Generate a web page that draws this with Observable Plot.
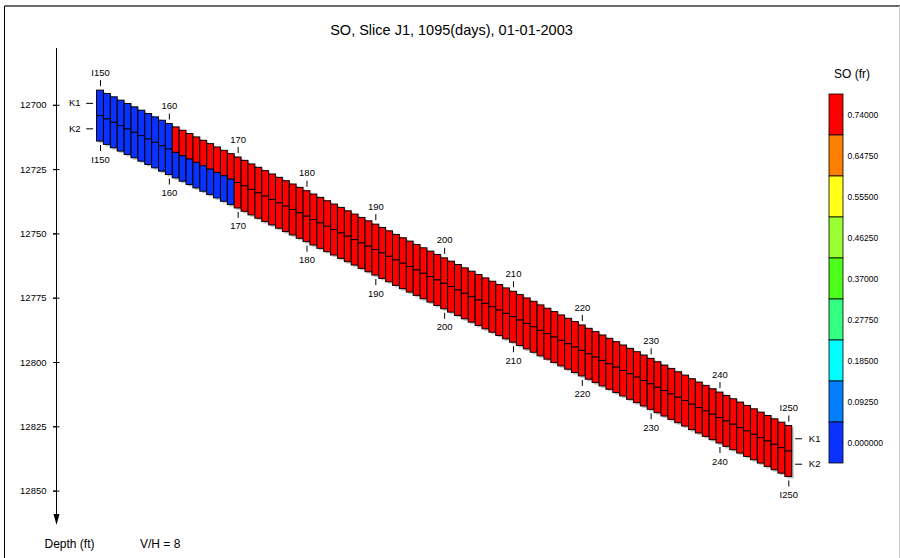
<!DOCTYPE html>
<html>
<head>
<meta charset="utf-8">
<script src="https://cdn.jsdelivr.net/npm/d3@7"></script>
<script src="https://cdn.jsdelivr.net/npm/@observablehq/plot@0.6"></script>
<style>
  body { margin: 0; background: #fff; }
  #wrap { position: relative; width: 900px; height: 558px; overflow: hidden; background: #fff;
          font-family: "Liberation Sans", Arial, Helvetica, sans-serif; }
  #wrap svg { position: absolute; left: 0; top: 0; }
</style>
</head>
<body>
<div id="wrap"></div>
<script>
// ---------------- data ----------------
const titleText = "SO, Slice J1, 1095(days), 01-01-2003";
const legendTitle = "SO (fr)";
const iFirst = 150;
// top depth (ft) of layer K1 for each column I = 150 ... 250
const topDepth = [
  12694.3,12695.6,12696.9,12698.2,12699.5,12700.8,12702.1,12703.4,12704.7,12706.0,
  12707.3,12708.6,12709.9,12711.2,12712.5,12713.8,12715.1,12716.4,12717.7,12719.0,
  12720.3,12721.6,12723.0,12724.3,12725.6,12726.9,12728.2,12729.5,12730.8,12732.1,
  12733.4,12734.7,12736.0,12737.3,12738.6,12739.9,12741.2,12742.5,12743.8,12745.1,
  12746.4,12747.7,12749.0,12750.4,12751.7,12753.0,12754.3,12755.6,12756.9,12758.2,
  12759.5,12760.8,12762.1,12763.4,12764.7,12766.0,12767.3,12768.6,12769.9,12771.2,
  12772.5,12773.8,12775.1,12776.4,12777.8,12779.1,12780.4,12781.7,12783.0,12784.3,
  12785.6,12786.9,12788.2,12789.5,12790.8,12792.1,12793.4,12794.7,12796.0,12797.3,
  12798.6,12799.9,12801.2,12802.5,12803.8,12805.1,12806.5,12807.8,12809.1,12810.4,
  12811.7,12813.0,12814.3,12815.6,12816.9,12818.2,12819.5,12820.8,12822.1,12823.4,
  12824.7
];
const layerNames = ["K1", "K2"];
const layerThickness = [9.9, 9.9];
// oil saturation per column, layer K1
const soK1 = [
  0,0,0,0,0,0,0,0,0,0,
  0,.8,.8,.8,.8,.8,.8,.8,.8,.8,
  .8,.8,.8,.8,.8,.8,.8,.8,.8,.8,
  .8,.8,.8,.8,.8,.8,.8,.8,.8,.8,
  .8,.8,.8,.8,.8,.8,.8,.8,.8,.8,
  .8,.8,.8,.8,.8,.8,.8,.8,.8,.8,
  .8,.8,.8,.8,.8,.8,.8,.8,.8,.8,
  .8,.8,.8,.8,.8,.8,.8,.8,.8,.8,
  .8,.8,.8,.8,.8,.8,.8,.8,.8,.8,
  .8,.8,.8,.8,.8,.8,.8,.8,.8,.8,
  .8
];
// oil saturation per column, layer K2
const soK2 = [
  0,0,0,0,0,0,0,0,0,0,
  0,0,0,0,0,0,0,0,0,0,
  .8,.8,.8,.8,.8,.8,.8,.8,.8,.8,
  .8,.8,.8,.8,.8,.8,.8,.8,.8,.8,
  .8,.8,.8,.8,.8,.8,.8,.8,.8,.8,
  .8,.8,.8,.8,.8,.8,.8,.8,.8,.8,
  .8,.8,.8,.8,.8,.8,.8,.8,.8,.8,
  .8,.8,.8,.8,.8,.8,.8,.8,.8,.8,
  .8,.8,.8,.8,.8,.8,.8,.8,.8,.8,
  .8,.8,.8,.8,.8,.8,.8,.8,.8,.8,
  .8
];
const depthTicks = [12700, 12725, 12750, 12775, 12800, 12825, 12850];
const iLabelCols = [150, 160, 170, 180, 190, 200, 210, 220, 230, 240, 250];
const iLabelText = ["I150", "160", "170", "180", "190", "200", "210", "220", "230", "240", "I250"];
// colour legend, top to bottom
const binLabels = ["0.74000","0.64750","0.55500","0.46250","0.37000","0.27750","0.18500","0.09250","0.000000"];
const binColors = ["#ff0000","#ff8000","#ffff1a","#99ff33","#4dff1a","#33ff80","#00ffff","#0080ff","#0a32ff"];
const footLeft = "Depth (ft)";
const footRight = "V/H = 8";

// ---------------- derived tables ----------------
const FONT = "Liberation Sans, Arial, Helvetica, sans-serif";
const yPx = [104.8, 490.6];
const ftPerPx = (depthTicks[depthTicks.length - 1] - depthTicks[0]) / (yPx[1] - yPx[0]);
const soByLayer = [soK1, soK2];
const cells = [];
topDepth.forEach((t, k) => {
  let y = t;
  layerThickness.forEach((h, L) => {
    cells.push({i: iFirst + k, y1: y, y2: y + h, so: soByLayer[L][k]});
    y += h;
  });
});
const totalThick = layerThickness.reduce((a, b) => a + b, 0);
const labelData = iLabelCols.map((c, j) => ({
  i: c, name: iLabelText[j], top: topDepth[c - iFirst], bottom: topDepth[c - iFirst] + totalThick
}));
function kLabelsAt(col) {
  let y = topDepth[col - iFirst];
  return layerNames.map((n, L) => { const m = y + layerThickness[L] / 2; y += layerThickness[L]; return {i: col, name: n, y: m}; });
}
const kLeft = kLabelsAt(iLabelCols[0]);
const kRight = kLabelsAt(iLabelCols[iLabelCols.length - 1]);
const thresholds = binLabels.slice(0, -1).map(Number).reverse();
const colorsUp = binColors.slice().reverse();
const W = 900, ML = 56;

// ---------------- main plot ----------------
const main = Plot.plot({
  width: W, height: 558,
  marginLeft: ML, marginTop: 48, marginRight: 0, marginBottom: 40,
  x: {domain: [150, 250], range: [100, 788.3], axis: null},
  y: {domain: [12700, 12850], range: yPx, axis: null},
  color: {type: "threshold", domain: thresholds, range: colorsUp},
  style: {fontFamily: FONT, background: "transparent", overflow: "visible", fontSize: "9.5px"},
  marks: [
    Plot.axisY({ticks: depthTicks, tickSize: 3, tickPadding: 7, tickFormat: "d", fontSize: 9.5, anchor: "left"}),
    Plot.ruleY(depthTicks, {y: d => d, insetLeft: -3, insetRight: W - ML - 3.5, stroke: "#000"}),
    Plot.rect(cells, {x1: d => d.i - 0.5, x2: d => d.i + 0.5, y1: "y1", y2: "y2", fill: "#c4c4c4", dx: 2, dy: 2}),
    Plot.rect(cells, {x1: d => d.i - 0.5, x2: d => d.i + 0.5, y1: "y1", y2: "y2", fill: "so", stroke: "#000", strokeWidth: 1}),
    Plot.ruleX(labelData, {x: "i", y1: d => d.top - 4 * ftPerPx, y2: d => d.top - 10 * ftPerPx, stroke: "#000"}),
    Plot.ruleX(labelData, {x: "i", y1: d => d.bottom + 4 * ftPerPx, y2: d => d.bottom + 10 * ftPerPx, stroke: "#000"}),
    Plot.text(labelData, {x: "i", y: "top", dy: -18, text: "name", fontSize: 9.5}),
    Plot.text(labelData, {x: "i", y: "bottom", dy: 18, text: "name", fontSize: 9.5}),
    Plot.ruleY(kLeft, {y: "y", x1: d => d.i - 2, x2: d => d.i - 1, stroke: "#000"}),
    Plot.text(kLeft, {x: "i", y: "y", text: "name", dx: -20, textAnchor: "end", fontSize: 9.5}),
    Plot.ruleY(kRight, {y: "y", x1: d => d.i + 1, x2: d => d.i + 2, stroke: "#000"}),
    Plot.text(kRight, {x: "i", y: "y", text: "name", dx: 20, textAnchor: "start", fontSize: 9.5})
  ]
});

// ---------------- colour bar ----------------
const legend = Plot.plot({
  width: 900, height: 558, margin: 0,
  x: {type: "band", domain: ["bar"], range: [829, 843], padding: 0, axis: null},
  y: {type: "band", domain: binLabels, range: [90, 466], padding: 0, axis: null},
  style: {fontFamily: FONT, background: "transparent", overflow: "visible"},
  marks: [
    Plot.cell(binLabels, {x: () => "bar", y: d => d, fill: (d, i) => binColors[i], stroke: "#000", strokeWidth: 0.8, inset: 0}),
    Plot.text(binLabels, {x: () => "bar", y: d => d, text: d => d, dx: 11, textAnchor: "start", fontSize: 8.5})
  ]
});

const wrap = document.getElementById("wrap");
wrap.appendChild(main);
wrap.appendChild(legend);

// ---------------- decoration (frame, axis arrow, titles) ----------------
const s = d3.select(main);
s.append("line").attr("x1", 4.5).attr("x2", 900).attr("y1", 6).attr("y2", 6).attr("stroke", "#6a6a6a").attr("stroke-width", 2);
s.append("line").attr("x1", 4.5).attr("x2", 4.5).attr("y1", 6).attr("y2", 558).attr("stroke", "#000").attr("stroke-width", 1);
s.append("line").attr("x1", 899.5).attr("x2", 899.5).attr("y1", 6).attr("y2", 558).attr("stroke", "#d0d0d0").attr("stroke-width", 1);
s.append("line").attr("x1", 56.5).attr("x2", 56.5).attr("y1", 48).attr("y2", 516).attr("stroke", "#000").attr("stroke-width", 1);
s.append("path").attr("d", "M53.5,514 L59.5,514 L56.5,525 Z").attr("fill", "#000");
const txt = (x, y, t, size, anchor) => s.append("text").attr("x", x).attr("y", y).attr("font-size", size)
  .attr("text-anchor", anchor).attr("dominant-baseline", "central").attr("font-family", FONT).attr("fill", "#000").text(t);
txt(451.5, 30, titleText, 14.5, "middle");
txt(852, 74, legendTitle, 12, "middle");
txt(44.5, 544, footLeft, 12, "start");
txt(140, 544, footRight, 12, "start");
</script>
</body>
</html>
